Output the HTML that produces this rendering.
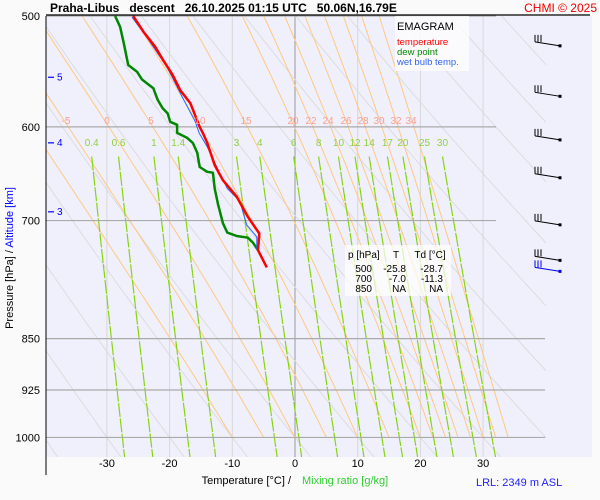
<!DOCTYPE html>
<html><head><meta charset="utf-8">
<style>
html,body{margin:0;padding:0;background:#fafafa;}
svg{display:block;font-family:"Liberation Sans",sans-serif;}
</style></head>
<body>
<svg id="chart" width="600" height="500" viewBox="0 0 600 500">
  <rect x="0" y="0" width="600" height="500" fill="#fafafa"/>
  <rect x="46" y="16" width="546" height="441" fill="#f0f0fc"/>
  <defs><clipPath id="clip"><rect x="46" y="16" width="500" height="441"/></clipPath></defs>
  <g id="grid" clip-path="url(#clip)"></g>
  <g id="series"></g>
  <g id="labels"></g>
  <line x1="46" y1="15" x2="590" y2="15" stroke="#000" stroke-width="1.2"/>
  <line x1="46" y1="16" x2="46" y2="475" stroke="#000" stroke-width="1"/>
  <text x="50" y="12" font-size="12" font-weight="bold" xml:space="preserve">Praha-Libus   descent   26.10.2025 01:15 UTC   50.06N,16.79E</text>
  <text x="597" y="12" font-size="12" fill="#e00" text-anchor="end">CHMI © 2025</text>
  <text transform="translate(13,258) rotate(-90)" font-size="11" text-anchor="middle"><tspan fill="#000">Pressure [hPa]  /  </tspan><tspan fill="#00f">Altitude [km]</tspan></text>
  <text x="291" y="484" font-size="11" text-anchor="end">Temperature [°C]  /</text>
  <text x="302" y="484" font-size="11" fill="#3c3">Mixing ratio [g/kg]</text>
  <text x="476" y="486" font-size="11" fill="#22f">LRL: 2349 m ASL</text>
  <g>
    <rect x="395" y="16" width="74" height="55" fill="#fff" fill-opacity="0.75"/>
    <text x="397" y="30" font-size="11" fill="#000">EMAGRAM</text>
    <text x="397" y="45" font-size="9.5" fill="#f00">temperature</text>
    <text x="397" y="55" font-size="9.5" fill="#080">dew point</text>
    <text x="397" y="65" font-size="9.5" fill="#36e">wet bulb temp.</text>
  </g>
  <g font-size="10">
    <rect x="345" y="245" width="106" height="51" fill="#fff" fill-opacity="0.7"/>
    <text x="348" y="258">p [hPa]</text><text x="396" y="258" text-anchor="middle">T</text><text x="430" y="258" text-anchor="middle">Td [°C]</text>
    <text x="372" y="272" text-anchor="end">500</text><text x="406" y="272" text-anchor="end">-25.8</text><text x="443" y="272" text-anchor="end">-28.7</text>
    <text x="372" y="282" text-anchor="end">700</text><text x="406" y="282" text-anchor="end">-7.0</text><text x="443" y="282" text-anchor="end">-11.3</text>
    <text x="372" y="292" text-anchor="end">850</text><text x="406" y="292" text-anchor="end">NA</text><text x="443" y="292" text-anchor="end">NA</text>
  </g>
</svg>
<script>
// ---- data ----
const tempP  = [500,513,526,537,551,565,577,600,606,616,639,655,673,696,715,735,756];
const tempT  = [-25.8,-24.2,-22.3,-21.1,-19.5,-18.3,-16.7,-15.2,-14.7,-14.0,-12.8,-11.5,-9.3,-7.5,-5.7,-5.9,-4.5];
const dewP   = [500,509,523,542,548,555,563,574,582,587,595,598,606,611,616,626,641,646,647,664,681,703,714,718,720,726,735];
const dewT   = [-28.7,-27.9,-27.3,-26.6,-25.2,-24.4,-22.6,-21.9,-21.1,-20.3,-19.9,-18.8,-18.8,-17.2,-16.3,-15.6,-15.2,-14.0,-13.1,-12.8,-12.3,-11.5,-10.8,-9.3,-7.5,-6.7,-5.9];
const wetP   = [501,518,544,571,595,606,620,642,664,678,705,719,734];
const wetT   = [-26.0,-23.6,-20.4,-18.0,-15.9,-15.3,-14.0,-12.4,-10.8,-8.8,-7.7,-6.1,-6.1];
const pressureTicks = [500,600,700,850,925,1000];
const tempTicks = [-30,-20,-10,0,10,20,30];
const mixingRatios = [0.4,0.6,1,1.4,3,4,6,8,10,12,14,17,20,25,30];
const moistThetas = [-10,-5,0,5,10,15,20,22,24,26,28,30,32,34];
const moistLabels = [-5,0,5,10,15,20,22,24,26,28,30,32,34];
const dryThetas = [-50,-40,-30,-20,-10,0,10,20,30,40,50,60,70,80,90,100];
const altKm = [5,4,3];
const altP = [553,616,690];
const barbP = [520,565,607,646,698,740];

// ---- axes ----
const NS='http://www.w3.org/2000/svg';
const xT = t => 295 + 6.27*t;
const yP = p => 16 + 608*Math.log(p/500);
function el(tag, attrs, parent){const e=document.createElementNS(NS,tag);for(const k in attrs)e.setAttribute(k,attrs[k]);parent.appendChild(e);return e;}
const grid=document.getElementById('grid'), series=document.getElementById('series'), labels=document.getElementById('labels');
const pts = arr => arr.map(q=>q[0].toFixed(1)+','+q[1].toFixed(1)).join(' ');

const es = T => 6.112*Math.exp(17.67*T/(T+243.5));
function tForMix(w,p){const e=w*p/(622+w);const l=Math.log(e/6.112);return 243.5*l/(17.67-l);}

tempTicks.forEach(t=>{
  const l=el('line',{x1:xT(t),x2:xT(t),y1:16,y2:457,stroke:t===0?'#999':'#d8d8d8','stroke-width':1},grid);
  
  
});
dryThetas.forEach(th=>{
  const a=[];for(let p=480;p<=1060;p+=10){const T=(th+273.15)*Math.pow(p/1000,0.2857)-273.15;a.push([xT(T),yP(p)]);}
  const l=el('polyline',{points:pts(a),fill:'none',stroke:'#dadada','stroke-width':0.9},grid);
  
  
});
moistThetas.forEach(th=>{
  let T=th+273.15,p=1000;const a=[[xT(th),yP(1000)]];
  while(p>480){const dp=-2;const Tc=T-273.15;const e=es(Tc);const rs=0.622*e/(p-e);
    const dTdp=(287*T+2.5e6*rs)/(p*(1004+2.5e6*2.5e6*rs*0.622/(287*T*T)));T+=dTdp*dp;p+=dp;
    if(p%10===0)a.push([xT(T-273.15),yP(p)]);}
  const l=el('polyline',{points:pts(a),fill:'none',stroke:'#ffc880','stroke-width':1},grid);
  
  
});
mixingRatios.forEach((w,i)=>{
  const a=[];for(let p=630;p<=1040;p+=10)a.push([xT(tForMix(w,p)),yP(p)]);
  const l=el('polyline',{points:pts(a),fill:'none',stroke:'#88d410','stroke-width':1.2,'stroke-dasharray':'14,1.5'},grid);
  
  
  const tx=el('text',{x:xT(tForMix(w,630)),y:146,'font-size':10,fill:'#90d040','text-anchor':'middle'},labels);
  tx.textContent=w;
  
  
});
const moistLabelX=[66,107,151,200,246,293,311,328,346,363,379,396,411];
moistLabels.forEach((v,i)=>{
  const tx=el('text',{x:moistLabelX[i],y:124,'font-size':10,fill:'#f8a090','text-anchor':'middle'},labels);
  tx.textContent=v;
  
  
});
pressureTicks.forEach(p=>{
  const l=el('line',{x1:46,x2:p<=700?496:545,y1:yP(p),y2:yP(p),stroke:'#aaa','stroke-width':1.2},series);
  
  
  const tx=el('text',{x:40,y:yP(p)+4,'font-size':11,'text-anchor':'end'},labels);
  tx.textContent=p;
  
  
});
tempTicks.forEach(t=>{
  const tx=el('text',{x:xT(t),y:467,'font-size':11,'text-anchor':'middle'},labels);
  tx.textContent=t;
  
  
});
altKm.forEach((k,i)=>{
  const y=yP(altP[i]);
  const l=el('line',{x1:48,x2:54,y1:y,y2:y,stroke:'#00f','stroke-width':1.2},labels);
  
  
  const tx=el('text',{x:57,y:y+3,'font-size':10,fill:'#00f'},labels);
  tx.textContent=k;
  
  
});
function prof(P,T,color,w,name){
  const a=P.map((p,i)=>[xT(T[i]),yP(p)]);
  const l=el('polyline',{points:pts(a),fill:'none',stroke:color,'stroke-width':w,'stroke-linejoin':'round'},series);
  
  
}
prof(dewP,dewT,'#008800',2.5,'dew-point-line');
prof(wetP,wetT,'#2266ff',1,'wet-bulb-line');
prof(tempP,tempT,'#ff0000',2.5,'temperature-line');
function barb(y,color,name){
  const g=el('g',{stroke:color,'stroke-width':1,fill:'none'},series);
  
  
  el('line',{x1:535,y1:y-4,x2:560,y2:y},g);
  [535,538,541].forEach(x=>el('line',{x1:x,y1:y-4,x2:x,y2:y-11},g));
  el('rect',{x:558.5,y:y-1.5,width:3,height:3,fill:color,stroke:'none'},g);
}
barbP.forEach(p=>barb(yP(p)+6,'#000','wind-barb'));
barb(yP(740)+17,'#0000ee','wind-barb-lrl');
</script>
</body></html>
